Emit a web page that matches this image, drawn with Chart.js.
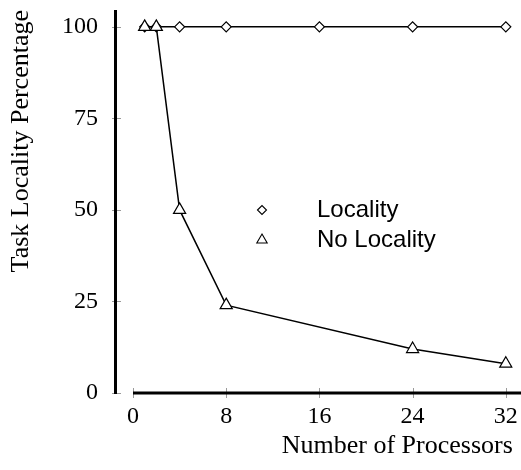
<!DOCTYPE html>
<html>
<head>
<meta charset="utf-8">
<script src="https://cdn.jsdelivr.net/npm/chart.js@4/dist/chart.umd.min.js"></script>
<style>
  html, body { margin: 0; padding: 0; background: #fff; }
  #wrap { width: 521px; height: 470px; }
</style>
</head>
<body>
<div id="wrap"><canvas id="chart" width="521" height="470"></canvas></div>
<script>
// processors on the x axis, locality % on the y axis
const localityProcs = [1, 2, 4, 8, 16, 24, 32];
const localityValues = [100, 100, 100, 100, 100, 100, 100];
const noLocalityProcs = [1, 2, 4, 8, 24, 32];
const noLocalityValues = [100, 100, 50, 24, 12, 8];
const xTickValues = [0, 8, 16, 24, 32];
const yTickValues = [0, 25, 50, 75, 100];

const toPoints = (xs, ys) => xs.map((x, i) => ({ x: x, y: ys[i] }));

// detached axis lines + small grey ticks, like the original plot
const rangeFrame = {
  id: 'rangeFrame',
  afterDraw(chart) {
    const { ctx, chartArea } = chart;
    const xs = chart.scales.x, ys = chart.scales.y;
    const y0 = ys.getPixelForValue(0);
    const axisX = 115.5;
    ctx.save();
    ctx.strokeStyle = '#9a9a9a';
    ctx.lineWidth = 1;
    ys.ticks.forEach(t => {
      const py = Math.round(ys.getPixelForValue(t.value)) + 0.5;
      ctx.beginPath();
      ctx.moveTo(112, py);
      ctx.lineTo(121, py);
      ctx.stroke();
    });
    xs.ticks.forEach(t => {
      const px = Math.round(xs.getPixelForValue(t.value)) + 0.5;
      ctx.beginPath();
      ctx.moveTo(px, y0 - 5);
      ctx.lineTo(px, y0 + 5);
      ctx.stroke();
    });
    ctx.strokeStyle = '#000';
    ctx.lineWidth = 3;
    ctx.beginPath();
    ctx.moveTo(axisX, chartArea.top);
    ctx.lineTo(axisX, y0 + 1);
    ctx.stroke();
    ctx.beginPath();
    ctx.moveTo(xs.getPixelForValue(0), y0);
    ctx.lineTo(chart.width, y0);
    ctx.stroke();
    ctx.restore();
  }
};

// legend sitting inside the plot, markers without lines
const innerLegend = {
  id: 'innerLegend',
  afterDraw(chart) {
    const ctx = chart.ctx;
    const markX = 262, textX = 317;
    const rows = [210, 240];
    const sizes = [4.5, 6];
    ctx.save();
    chart.data.datasets.forEach((ds, i) => {
      const yy = rows[i];
      ctx.fillStyle = '#fff';
      ctx.strokeStyle = '#000';
      ctx.lineWidth = 1.1;
      Chart.helpers.drawPoint(ctx, {
        pointStyle: ds.pointStyle,
        radius: sizes[i],
        borderWidth: 1.1,
        rotation: 0
      }, markX, yy);
      ctx.fillStyle = '#000';
      ctx.font = '24px "Liberation Sans", Arial, sans-serif';
      ctx.textBaseline = 'middle';
      ctx.textAlign = 'left';
      ctx.fillText(ds.label, textX, yy);
    });
    ctx.restore();
  }
};

const serif = { family: '"Liberation Serif", "Times New Roman", serif', size: 24 };
const serifTitle = { family: '"Liberation Serif", "Times New Roman", serif', size: 26 };

new Chart(document.getElementById('chart'), {
  type: 'line',
  data: {
    datasets: [
      {
        label: 'Locality',
        data: toPoints(localityProcs, localityValues),
        borderColor: '#000',
        borderWidth: 1.5,
        pointStyle: 'rectRot',
        pointRadius: 5,
        pointBorderWidth: 1.2,
        pointBackgroundColor: '#fff',
        pointBorderColor: '#000',
        order: 1
      },
      {
        label: 'No Locality',
        data: toPoints(noLocalityProcs, noLocalityValues),
        borderColor: '#000',
        borderWidth: 1.5,
        pointStyle: 'triangle',
        pointRadius: 7,
        pointBorderWidth: 1.2,
        pointBackgroundColor: '#fff',
        pointBorderColor: '#000',
        order: 0
      }
    ]
  },
  options: {
    responsive: false,
    animation: false,
    layout: { padding: { top: 10, right: 0, bottom: 0, left: 0 } },
    plugins: { legend: { display: false }, tooltip: { enabled: false } },
    scales: {
      x: {
        type: 'linear',
        min: 0,
        max: 32.6,
        afterBuildTicks: s => { s.ticks = xTickValues.map(v => ({ value: v })); },
        afterFit: s => { s.height = 77; s.paddingLeft = 0; s.paddingRight = 0; },
        grid: { display: false },
        border: { display: false },
        ticks: { color: '#000', font: serif, padding: 1, maxRotation: 0 },
        title: {
          display: true,
          text: 'Number of Processors',
          align: 'end',
          color: '#000',
          font: serifTitle,
          padding: { top: 0, bottom: 8 }
        }
      },
      y: {
        type: 'linear',
        min: 0,
        max: 104.6,
        afterBuildTicks: s => { s.ticks = yTickValues.map(v => ({ value: v })); },
        afterFit: s => { s.width = 133; s.paddingTop = 0; s.paddingBottom = 0; },
        grid: { display: false },
        border: { display: false },
        ticks: { color: '#000', font: serif, padding: 27 },
        title: {
          display: true,
          text: 'Task Locality Percentage',
          align: 'end',
          color: '#000',
          font: serifTitle,
          padding: { top: 6, bottom: 0 }
        }
      }
    }
  },
  plugins: [rangeFrame, innerLegend]
});
</script>
</body>
</html>
